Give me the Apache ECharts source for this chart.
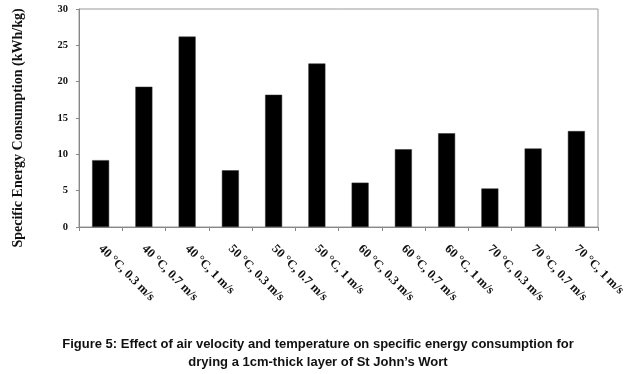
<!DOCTYPE html>
<html>
<head>
<meta charset="utf-8">
<script src="https://cdn.jsdelivr.net/npm/echarts@6/dist/echarts.min.js"></script>
<style>
  html, body { margin: 0; padding: 0; background: #fff; }
  #main { width: 636px; height: 374px; }
</style>
</head>
<body>
<div id="main"></div>
<script>
// categories (temperature, air velocity)
var categories = ['40 °C, 0.3 m/s', '40 °C, 0.7 m/s', '40 °C, 1 m/s',
  '50 °C, 0.3 m/s', '50 °C, 0.7 m/s', '50 °C, 1 m/s',
  '60 °C, 0.3 m/s', '60 °C, 0.7 m/s', '60 °C, 1 m/s',
  '70 °C, 0.3 m/s', '70 °C, 0.7 m/s', '70 °C, 1 m/s'];

// specific energy consumption, kWh/kg
var energy = [9.2, 19.3, 26.2, 7.8, 18.2, 22.5, 6.1, 10.7, 12.9, 5.3, 10.8, 13.2];

var yName = 'Specific Energy Consumption (kWh/kg)';
var caption = 'Figure 5: Effect of air velocity and temperature on specific energy consumption for\ndrying a 1cm-thick layer of St John\u2019s Wort';

var serif = '"Liberation Serif", "DejaVu Serif", serif';

var chart = echarts.init(document.getElementById('main'), null, { renderer: 'canvas' });

chart.setOption({
  animation: false,
  backgroundColor: '#fff',
  title: {
    text: caption,
    left: 'center',
    top: 330,
    textStyle: {
      fontFamily: '"Liberation Sans", Arial, sans-serif',
      fontSize: 13,
      fontWeight: 'bold',
      color: '#111',
      lineHeight: 18
    }
  },
  grid: {
    left: 79,
    right: 38,
    top: 9,
    bottom: 147,
    show: true,
    borderColor: '#999',
    borderWidth: 1
  },
  xAxis: {
    type: 'category',
    data: categories,
    axisLine: { lineStyle: { color: '#888' } },
    axisTick: { show: true, length: 4, lineStyle: { color: '#888' } },
    axisLabel: {
      rotate: -45,
      margin: 20,
      interval: 0,
      color: '#111',
      fontFamily: serif,
      fontWeight: 'bold',
      fontSize: 12.5
    }
  },
  yAxis: {
    type: 'value',
    min: 0,
    max: 30,
    interval: 5,
    name: yName,
    nameLocation: 'middle',
    nameGap: 54,
    nameTextStyle: {
      fontFamily: serif,
      fontWeight: 'bold',
      fontSize: 14,
      color: '#111',
      padding: [0, 20, 0, 0]
    },
    splitLine: { show: false },
    axisLine: { show: true, lineStyle: { color: '#888' } },
    axisTick: { show: true, length: 3, lineStyle: { color: '#888' } },
    axisLabel: {
      margin: 11,
      color: '#111',
      fontFamily: serif,
      fontWeight: 'bold',
      fontSize: 10.5
    }
  },
  series: [{
    type: 'bar',
    data: energy,
    barWidth: 17,
    itemStyle: { color: '#000', borderColor: '#333', borderWidth: 0.5 }
  }]
});
</script>
</body>
</html>
